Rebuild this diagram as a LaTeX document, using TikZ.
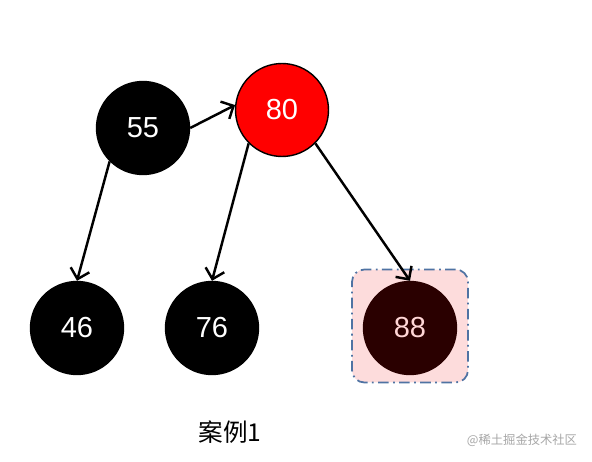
\documentclass[tikz,border=0pt]{standalone}
\usepackage{fontspec}
\setmainfont{Liberation Sans}
\newfontfamily\cjk{Noto Sans CJK SC}
\usetikzlibrary{arrows.meta}
\definecolor{hlfill}{HTML}{FDDCDC}
\definecolor{hlline}{HTML}{4F73A3}
\definecolor{darkred}{HTML}{2A0000}
\definecolor{pinktext}{HTML}{FFD6D6}

\begin{document}
\begin{tikzpicture}[x=0.02cm, y=-0.02cm,
    vert/.style={circle, draw=black, fill=black, line width=0.8pt, minimum size=1.86cm, inner sep=0pt, text=white, font=\fontsize{16.5}{16.5}\selectfont},
    arr/.style={line width=1.4pt, -{Straight Barb[length=5.5pt, width=11pt, line width=1.4pt]}},
    hilite/.style={rectangle, rounded corners=7pt, draw=hlline, fill=hlfill, dash pattern=on 6pt off 2.5pt on 1pt off 2.5pt, line width=1pt, minimum width=2.32cm, minimum height=2.26cm}]
        % Fix the picture size
        \useasboundingbox (0,0) rectangle (592,462);

        % Highlight box round the new vertex
        \node[hilite] (hl) at (410,326) {};

        % Draw the vertices
        \node[vert] (n55) at (143,128) {55};
        \node[vert, fill=red] (n80) at (282,110) {80};
        \node[vert] (n46) at (77,328) {46};
        \node[vert] (n76) at (212,328) {76};
        \node[vert, fill=darkred, draw=darkred, text=pinktext] (n88) at (410,328) {88};

        % Draw the edges
        \draw[arr] (n55.east) -- (n80.174);
        \draw[arr] (n55.-135) -- (n46.north);
        \draw[arr] (n80.-135) -- (n76.north);
        \draw[arr] (n80.-45) -- (n88.north);

        % Caption and watermark
        \node[font=\fontsize{14}{14}\selectfont\cjk] (cap) at (230,432) {案例1};
        \node[font=\fontsize{7}{7}\selectfont\cjk, text=black!35] (wm) at (522,440) {@稀土掘金技术社区};
      \end{tikzpicture}
\end{document}
